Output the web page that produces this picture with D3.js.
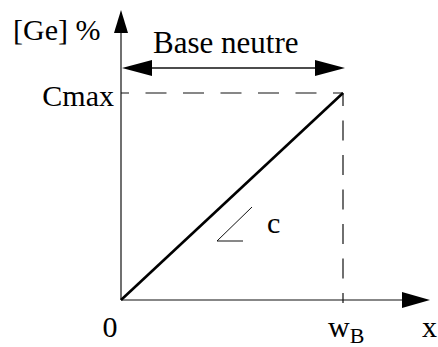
<!DOCTYPE html>
<html>
<head>
<meta charset="utf-8">
<script src="https://cdn.jsdelivr.net/npm/d3@7"></script>
</head>
<body style="margin:0">
<svg id="chart" width="438" height="347"></svg>
<script>
// Linear Ge profile across the neutral base: 0 at x = 0, Cmax at x = wB
const profileX = [0, 1];          // position, in units of wB
const profileGe = [0, 1];         // Ge concentration, in units of Cmax
const xTickValues = [0, 1];
const xTickLabels = ["0", "w"];
const yTickValues = [1];
const yTickLabels = ["Cmax"];
const yAxisTitle = "[Ge] %";
const xAxisTitle = "x";
const baseLabel = "Base neutre";
const slopeLabel = "c";

const svg = d3.select("#chart");
const ink = "#111";

const x = d3.scaleLinear().domain([0, 1]).range([121, 343]);
const y = d3.scaleLinear().domain([0, 1]).range([300, 93]);

const x0 = x(0), y0 = y(0);

// axes with arrow heads
svg.append("line").attr("x1", x0).attr("y1", y0).attr("x2", x0).attr("y2", 30)
  .attr("stroke", ink).attr("stroke-width", 1.2);
svg.append("path").attr("d", `M${x0},10 L${x0 - 7},33 L${x0 + 7},33 Z`).attr("fill", "#000");

svg.append("line").attr("x1", x0).attr("y1", y0).attr("x2", 405).attr("y2", y0)
  .attr("stroke", ink).attr("stroke-width", 1.2);
svg.append("path").attr("d", `M430,${y0} L402,${y0 - 8} L402,${y0 + 8} Z`).attr("fill", "#000");

// guide lines to (wB, Cmax)
svg.append("line")
  .attr("x1", x(1)).attr("y1", y(1)).attr("x2", x0).attr("y2", y(1))
  .attr("stroke", ink).attr("stroke-width", 1.2)
  .attr("stroke-dasharray", "21,16.5").attr("stroke-dashoffset", 11);
svg.append("line")
  .attr("x1", x(1)).attr("y1", y(1)).attr("x2", x(1)).attr("y2", y0 + 3)
  .attr("stroke", ink).attr("stroke-width", 1.2)
  .attr("stroke-dasharray", "20,14.5").attr("stroke-dashoffset", 7);

// neutral base width arrow
const by = 68;
svg.append("line").attr("x1", x0 + 25).attr("y1", by).attr("x2", x(1) - 25).attr("y2", by)
  .attr("stroke", ink).attr("stroke-width", 1.4);
svg.append("path").attr("d", `M${x0 + 1},${by} L${x0 + 31},${by - 8} L${x0 + 31},${by + 8} Z`).attr("fill", "#000");
svg.append("path").attr("d", `M${x(1) + 2},${by} L${x(1) - 28},${by - 8} L${x(1) - 28},${by + 8} Z`).attr("fill", "#000");

// profile
const line = d3.line().x((d, i) => x(profileX[i])).y(d => y(d));
svg.append("path").datum(profileGe).attr("d", line)
  .attr("fill", "none").attr("stroke", "#000").attr("stroke-width", 2.6);

// slope marker
svg.append("path").attr("d", "M252,207 L217,241 L243,241")
  .attr("fill", "none").attr("stroke", ink).attr("stroke-width", 1);

const fs = 30;
function label(xp, yp, size, str) {
  return svg.append("text").attr("x", xp).attr("y", yp)
    .attr("font-size", size)
    .style("font-family", '"Liberation Serif"')
    .style("font-size", size + "px")
    .attr("fill", "#000").text(str);
}
label(13, 40, fs, yAxisTitle);
label(153, 53, fs + 1, baseLabel);
label(267, 233, fs, slopeLabel);

yTickValues.forEach((v, i) => {
  label(114, y(v) + 13, fs, yTickLabels[i]).attr("text-anchor", "end");
});

xTickValues.forEach((v, i) => {
  if (i === 0) {
    label(x(v) - 11, 337, fs, xTickLabels[i]).attr("text-anchor", "middle");
  } else {
    const t = label(x(v) - 15, 337, fs, xTickLabels[i]);
    t.append("tspan").style("font-size", "22px").attr("dy", 6).text("B");
  }
});

label(422, 337, fs, xAxisTitle);
</script>
</body>
</html>
